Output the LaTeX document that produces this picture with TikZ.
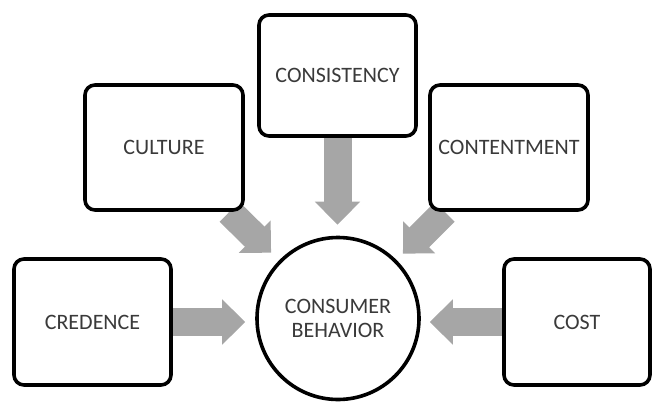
\documentclass[tikz,border=0pt]{standalone}
\usepackage{fontspec}
\setmainfont{Carlito}
\usetikzlibrary{arrows.meta,backgrounds}
\definecolor{txtgray}{HTML}{3A3A3A}
\definecolor{arrgray}{HTML}{A6A6A6}
\tikzset{
  boxnode/.style={draw=black, line width=3.6pt, rounded corners=10pt, fill=white,
    text=txtgray, font=\fontsize{22}{24}\selectfont, align=center, inner sep=0pt},
  circnode/.style={circle, draw=black, line width=3.6pt, fill=white, minimum size=162pt,
    text=txtgray, font=\fontsize{22}{24}\selectfont, align=center, inner sep=0pt},
  bigarrow/.style={draw=arrgray, line width=28pt, -{Triangle[length=23pt, width=44pt]}}
}
\begin{document}
\begin{tikzpicture}[x=1pt, y=-1pt]
\useasboundingbox (0,0) rectangle (655,402);
\node[boxnode, minimum width=158pt, minimum height=125pt] (culture) at (164,147.5) {CULTURE};
\node[boxnode, minimum width=157pt, minimum height=121pt] (consistency) at (337.5,75.5) {CONSISTENCY};
\node[boxnode, minimum width=158pt, minimum height=125pt] (contentment) at (509,147.5) {CONTENTMENT};
\node[boxnode, minimum width=157pt, minimum height=126pt] (credence) at (92.5,322) {CREDENCE};
\node[boxnode, minimum width=146pt, minimum height=126pt] (cost) at (577,322) {COST};
\node[circnode] (cb) at (338,318.5) {CONSUMER\\BEHAVIOR};
\begin{scope}[on background layer]
\draw[bigarrow, shorten >=11pt] (culture) -- (cb);
\draw[bigarrow, shorten >=9pt] (contentment) -- (cb);
\draw[bigarrow, shorten >=11pt] (consistency) -- (consistency |- cb.north);
\draw[bigarrow, shorten >=10pt] (credence.east) -- (credence.east -| cb.west);
\draw[bigarrow, shorten >=9pt] (cost.west) -- (cost.west -| cb.east);
\end{scope}
\end{tikzpicture}
\end{document}
